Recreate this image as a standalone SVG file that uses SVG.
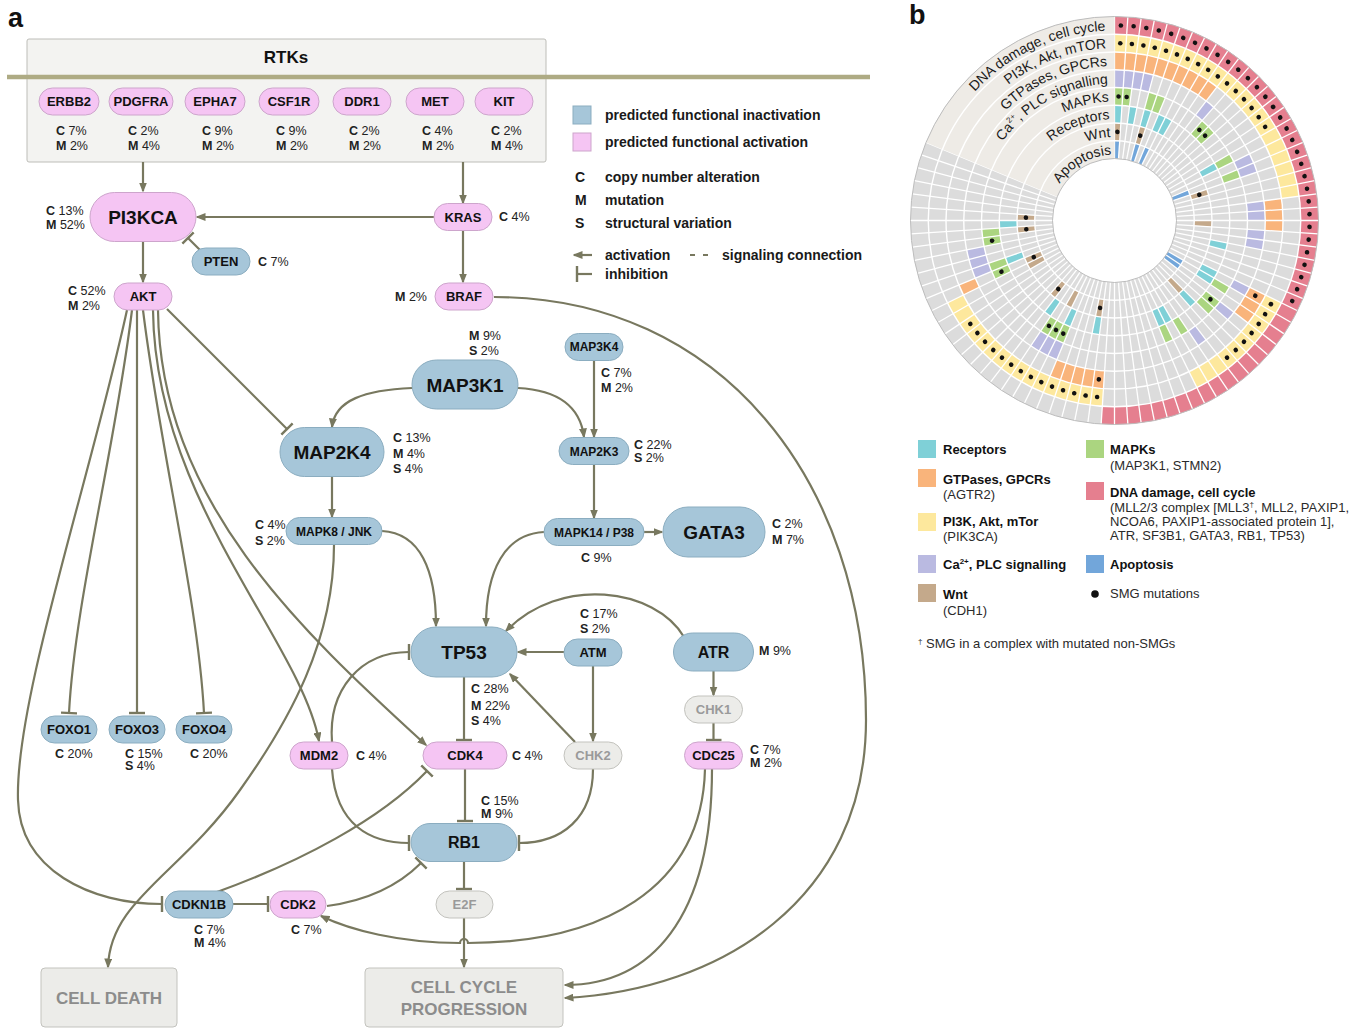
<svg xmlns="http://www.w3.org/2000/svg" xmlns:xlink="http://www.w3.org/1999/xlink" width="1353" height="1029" viewBox="0 0 1353 1029">
<defs>
<style>
text{font-family:"Liberation Sans",Arial,Helvetica,sans-serif}
.ln{fill:none;stroke:#78785f;stroke-width:2.2}
.ar{marker-end:url(#arr)}
.ih{marker-end:url(#inh)}
.pk{fill:#f5c5f3;stroke:#cda5cc;stroke-width:1}
.bl{fill:#a6c6d9;stroke:#8badc0;stroke-width:1}
.gy{fill:#ecece9;stroke:#c3c3be;stroke-width:1}
.nt{font-weight:bold;font-size:13px;fill:#111;text-anchor:middle}
.big{font-size:19px}
.md{font-size:16px}
.sm{font-size:12px}
.gt{fill:#9a9a9a}
.lab{font-size:12.5px;fill:#222}
.b{font-weight:bold}
.leg{font-size:14px;font-weight:bold;fill:#1a1a1a}
.rg{fill:none;stroke-width:17.75}
.cl{font-size:14px;fill:#1a1a1a}
.l2{font-size:13px;fill:#2a2a2a}
.l2b{font-size:13px;font-weight:bold;fill:#111}
.box{fill:#ecece9;stroke:#c3c3be;stroke-width:1}
.bx{font-size:17px;font-weight:bold;fill:#8c8c8c;text-anchor:middle}
</style>
<marker id="arr" markerUnits="userSpaceOnUse" viewBox="0 0 10 8" refX="8.5" refY="4" markerWidth="10" markerHeight="8" orient="auto"><path d="M0,0 L10,4 L0,8 Z" fill="#78785f"/></marker>
<marker id="inh" markerUnits="userSpaceOnUse" viewBox="0 0 4 16" refX="2" refY="8" markerWidth="4" markerHeight="16" orient="auto"><path d="M2,0 V16" stroke="#78785f" stroke-width="2.4"/></marker>
<line id="rl" x1="0" y1="-62" x2="0" y2="-204" stroke="#fff" stroke-width="1.3"/>
<circle id="k0" cx="0" cy="-195.125" r="2.3" fill="#111"/>
<circle id="k1" cx="0" cy="-177.375" r="2.3" fill="#111"/>
<circle id="k2" cx="0" cy="-159.625" r="2.3" fill="#111"/>
<circle id="k4" cx="0" cy="-124.125" r="2.3" fill="#111"/>
<circle id="k6" cx="0" cy="-88.625" r="2.3" fill="#111"/>
<path id="p0" d="M-190,0 A190,190 0 0 1 -8.95,-189.79"/>
<path id="p1" d="M-172.4,0 A172.4,172.4 0 0 1 -8.12,-172.21"/>
<path id="p2" d="M-154.6,0 A154.6,154.6 0 0 1 -7.28,-154.43"/>
<path id="p3" d="M-136.9,0 A136.9,136.9 0 0 1 -6.45,-136.75"/>
<path id="p4" d="M-119.1,0 A119.1,119.1 0 0 1 -5.61,-118.97"/>
<path id="p5" d="M-101.4,0 A101.4,101.4 0 0 1 -4.78,-101.29"/>
<path id="p6" d="M-83.6,0 A83.6,83.6 0 0 1 -3.94,-83.51"/>
<path id="p7" d="M-65.9,0 A65.9,65.9 0 0 1 -3.10,-65.83"/>
</defs>
<rect width="1353" height="1029" fill="#fff"/>

<text x="8" y="27" font-size="27" font-weight="bold" fill="#111">a</text>
<text x="909" y="24" font-size="27" font-weight="bold" fill="#111">b</text>

<!-- RTK box -->
<g id="rtks">
<rect x="27" y="39" width="519" height="123" rx="2" fill="#f3f3f1" stroke="#bdbdb8" stroke-width="1"/>
<text x="286" y="63" font-size="17" font-weight="bold" fill="#111" text-anchor="middle">RTKs</text>
<line x1="7" y1="77" x2="870" y2="77" stroke="#aeab84" stroke-width="4.5"/>
</g>

<!-- connectors -->
<g id="connectors">
<path class="ln ar" d="M143,162 V191"/>
<path class="ln ar" d="M463,162 V203"/>
<path class="ln ar" d="M434,217 H197"/>
<path class="ln ih" d="M201,251 L188,238"/>
<path class="ln ar" d="M143,242 V282"/>
<path class="ln ar" d="M463,231 V282"/>
<path class="ln ih" d="M167,309 L287,429"/>
<path class="ln ih" d="M127,310 C90,480 15,700 18,800 C20,870 90,904 162,904"/>
<path class="ln ih" d="M132,310 C115,450 75,600 69,713"/>
<path class="ln ih" d="M137,310 V713"/>
<path class="ln ih" d="M143,310 C160,450 198,600 204,713"/>
<path class="ln ar" d="M153,310 C155,500 300,640 319,741"/>
<path class="ln ar" d="M158,310 C160,500 300,630 426,745"/>
<path class="ln ar" d="M412,388 C365,390 335,400 332,427"/>
<path class="ln ar" d="M518,388 C556,390 580,405 584,437"/>
<path class="ln ar" d="M594,361 V437"/>
<path class="ln ar" d="M332,477 V517"/>
<path class="ln ar" d="M594,465 V518"/>
<path class="ln ar" d="M644,532 H662"/>
<path class="ln ar" d="M382,531 C420,533 436,570 436,626"/>
<path class="ln ar" d="M544,532 C505,534 486,570 486,626"/>
<path class="ln ar" d="M334,545 C334,640 290,720 240,790 C180,875 110,900 108,967"/>
<path class="ln ar" d="M564,652 H518"/>
<path class="ln ar" d="M684,637 C655,588 560,575 506,631"/>
<path class="ln ar" d="M593,666 V741"/>
<path class="ln ar" d="M575,742 L510,674"/>
<path class="ln ar" d="M713.5,671 V695"/>
<path class="ln ih" d="M713.5,723 V740"/>
<path class="ln ih" d="M464,677 V740"/>
<path class="ln ih" d="M332,742 C328,690 360,652 409,652"/>
<path class="ln ih" d="M332,769 C336,825 370,843 409,843"/>
<path class="ln ih" d="M465,769 V821"/>
<path class="ln ih" d="M593,769 C593,818 562,843 519,843"/>
<path class="ln ih" d="M464,862 V889"/>
<path class="ln ar" d="M464,918 V967"/>
<path class="ln ih" d="M217,892 C300,862 380,820 427,771"/>
<path class="ln ih" d="M327,906 C372,900 400,884 421,863"/>
<path class="ln ih" d="M233,904 H268"/>
<path class="ln ar" d="M705,769 C702,890 600,943 468,943 A4,4 0 0 0 460,943 C400,943 350,930 321,916"/>
<path class="ln ar" d="M712,769 C712,920 650,985 565,985"/>
<path class="ln ar" d="M494,297 C720,297 866,480 866,720 C866,900 720,990 565,998"/>
</g>

<!-- RTK nodes -->
<g id="n-ERBB2"><rect class="pk" x="39" y="88" width="60" height="27" rx="13.5"/><text class="nt" x="69" y="106">ERBB2</text>
<text class="lab" x="56" y="135"><tspan class="b">C</tspan> 7%</text><text class="lab" x="56" y="150"><tspan class="b">M</tspan> 2%</text></g>
<g id="n-PDGFRA"><rect class="pk" x="109" y="88" width="64" height="27" rx="13.5"/><text class="nt" x="141" y="106">PDGFRA</text>
<text class="lab" x="128" y="135"><tspan class="b">C</tspan> 2%</text><text class="lab" x="128" y="150"><tspan class="b">M</tspan> 4%</text></g>
<g id="n-EPHA7"><rect class="pk" x="185" y="88" width="60" height="27" rx="13.5"/><text class="nt" x="215" y="106">EPHA7</text>
<text class="lab" x="202" y="135"><tspan class="b">C</tspan> 9%</text><text class="lab" x="202" y="150"><tspan class="b">M</tspan> 2%</text></g>
<g id="n-CSF1R"><rect class="pk" x="259" y="88" width="60" height="27" rx="13.5"/><text class="nt" x="289" y="106">CSF1R</text>
<text class="lab" x="276" y="135"><tspan class="b">C</tspan> 9%</text><text class="lab" x="276" y="150"><tspan class="b">M</tspan> 2%</text></g>
<g id="n-DDR1"><rect class="pk" x="333" y="88" width="58" height="27" rx="13.5"/><text class="nt" x="362" y="106">DDR1</text>
<text class="lab" x="349" y="135"><tspan class="b">C</tspan> 2%</text><text class="lab" x="349" y="150"><tspan class="b">M</tspan> 2%</text></g>
<g id="n-MET"><rect class="pk" x="406" y="88" width="58" height="27" rx="13.5"/><text class="nt" x="435" y="106">MET</text>
<text class="lab" x="422" y="135"><tspan class="b">C</tspan> 4%</text><text class="lab" x="422" y="150"><tspan class="b">M</tspan> 2%</text></g>
<g id="n-KIT"><rect class="pk" x="475" y="88" width="58" height="27" rx="13.5"/><text class="nt" x="504" y="106">KIT</text>
<text class="lab" x="491" y="135"><tspan class="b">C</tspan> 2%</text><text class="lab" x="491" y="150"><tspan class="b">M</tspan> 4%</text></g>

<!-- pathway nodes -->
<g id="n-PI3KCA"><rect class="pk" x="90" y="192.5" width="106" height="49" rx="24.5"/><text class="nt big" x="143" y="224">PI3KCA</text>
<text class="lab" x="46" y="215"><tspan class="b">C</tspan> 13%</text><text class="lab" x="46" y="229"><tspan class="b">M</tspan> 52%</text></g>
<g id="n-KRAS"><rect class="pk" x="434" y="203.5" width="58" height="27" rx="13.5"/><text class="nt" x="463" y="221.5">KRAS</text>
<text class="lab" x="499" y="221"><tspan class="b">C</tspan> 4%</text></g>
<g id="n-PTEN"><rect class="bl" x="192" y="248" width="58" height="27" rx="13.5"/><text class="nt" x="221" y="266">PTEN</text>
<text class="lab" x="258" y="266"><tspan class="b">C</tspan> 7%</text></g>
<g id="n-AKT"><rect class="pk" x="114" y="283" width="58" height="27" rx="13.5"/><text class="nt" x="143" y="301">AKT</text>
<text class="lab" x="68" y="295"><tspan class="b">C</tspan>  52%</text><text class="lab" x="68" y="310"><tspan class="b">M</tspan>  2%</text></g>
<g id="n-BRAF"><rect class="pk" x="435" y="283" width="58" height="27" rx="13.5"/><text class="nt" x="464" y="301">BRAF</text>
<text class="lab" x="395" y="301"><tspan class="b">M</tspan>  2%</text></g>
<g id="n-MAP3K1"><rect class="bl" x="412" y="360" width="106" height="49" rx="24.5"/><text class="nt big" x="465" y="391.5">MAP3K1</text>
<text class="lab" x="469" y="340"><tspan class="b">M</tspan> 9%</text><text class="lab" x="469" y="355"><tspan class="b">S</tspan> 2%</text></g>
<g id="n-MAP3K4"><rect class="bl" x="565" y="333.5" width="58" height="27" rx="13.5"/><text class="nt sm" x="594" y="351">MAP3K4</text>
<text class="lab" x="601" y="377"><tspan class="b">C</tspan> 7%</text><text class="lab" x="601" y="392"><tspan class="b">M</tspan> 2%</text></g>
<g id="n-MAP2K4"><rect class="bl" x="280" y="427.5" width="104" height="49" rx="24.5"/><text class="nt big" x="332" y="459">MAP2K4</text>
<text class="lab" x="393" y="442"><tspan class="b">C</tspan> 13%</text><text class="lab" x="393" y="458"><tspan class="b">M</tspan> 4%</text><text class="lab" x="393" y="473"><tspan class="b">S</tspan> 4%</text></g>
<g id="n-MAP2K3"><rect class="bl" x="559" y="437.5" width="70" height="27" rx="13.5"/><text class="nt sm" x="594" y="455.5">MAP2K3</text>
<text class="lab" x="634" y="449"><tspan class="b">C</tspan> 22%</text><text class="lab" x="634" y="462"><tspan class="b">S</tspan> 2%</text></g>
<g id="n-MAPK8"><rect class="bl" x="286" y="517.5" width="96" height="27" rx="13.5"/><text class="nt sm" x="334" y="535.5">MAPK8 / JNK</text>
<text class="lab" x="255" y="529"><tspan class="b">C</tspan> 4%</text><text class="lab" x="255" y="545"><tspan class="b">S</tspan> 2%</text></g>
<g id="n-MAPK14"><rect class="bl" x="544" y="518.5" width="100" height="27" rx="13.5"/><text class="nt sm" x="594" y="536.5">MAPK14 / P38</text>
<text class="lab" x="581" y="562"><tspan class="b">C</tspan> 9%</text></g>
<g id="n-GATA3"><rect class="bl" x="663" y="507" width="102" height="50" rx="25"/><text class="nt big" x="714" y="539">GATA3</text>
<text class="lab" x="772" y="528"><tspan class="b">C</tspan> 2%</text><text class="lab" x="772" y="544"><tspan class="b">M</tspan> 7%</text></g>
<g id="n-TP53"><rect class="bl" x="411" y="627" width="106" height="50" rx="25"/><text class="nt big" x="464" y="659">TP53</text>
<text class="lab" x="471" y="693"><tspan class="b">C</tspan> 28%</text><text class="lab" x="471" y="710"><tspan class="b">M</tspan> 22%</text><text class="lab" x="471" y="725"><tspan class="b">S</tspan> 4%</text></g>
<g id="n-ATM"><rect class="bl" x="564" y="639" width="58" height="27" rx="13.5"/><text class="nt" x="593" y="657">ATM</text>
<text class="lab" x="580" y="618"><tspan class="b">C</tspan> 17%</text><text class="lab" x="580" y="633"><tspan class="b">S</tspan> 2%</text></g>
<g id="n-ATR"><rect class="bl" x="673.5" y="633" width="80" height="38" rx="19"/><text class="nt md" x="713.5" y="658">ATR</text>
<text class="lab" x="759" y="655"><tspan class="b">M</tspan> 9%</text></g>
<g id="n-CHK1"><rect class="gy" x="684.5" y="696" width="58" height="27" rx="13.5"/><text class="nt gt" x="713.5" y="714">CHK1</text></g>
<g id="n-CDC25"><rect class="pk" x="684.5" y="742" width="58" height="27" rx="13.5"/><text class="nt" x="713.5" y="760">CDC25</text>
<text class="lab" x="750" y="754"><tspan class="b">C</tspan> 7%</text><text class="lab" x="750" y="767"><tspan class="b">M</tspan> 2%</text></g>
<g id="n-CHK2"><rect class="gy" x="564" y="742" width="58" height="27" rx="13.5"/><text class="nt gt" x="593" y="760">CHK2</text></g>
<g id="n-CDK4"><rect class="pk" x="423" y="742" width="84" height="27" rx="13.5"/><text class="nt" x="465" y="760">CDK4</text>
<text class="lab" x="512" y="760"><tspan class="b">C</tspan> 4%</text></g>
<g id="n-MDM2"><rect class="pk" x="290" y="742" width="58" height="27" rx="13.5"/><text class="nt" x="319" y="760">MDM2</text>
<text class="lab" x="356" y="760"><tspan class="b">C</tspan> 4%</text></g>
<g id="n-FOXO1"><rect class="bl" x="41" y="716" width="56" height="27" rx="13.5"/><text class="nt" x="69" y="734">FOXO1</text>
<text class="lab" x="55" y="758"><tspan class="b">C</tspan> 20%</text></g>
<g id="n-FOXO3"><rect class="bl" x="109" y="716" width="56" height="27" rx="13.5"/><text class="nt" x="137" y="734">FOXO3</text>
<text class="lab" x="125" y="758"><tspan class="b">C</tspan> 15%</text><text class="lab" x="125" y="770"><tspan class="b">S</tspan> 4%</text></g>
<g id="n-FOXO4"><rect class="bl" x="176" y="716" width="56" height="27" rx="13.5"/><text class="nt" x="204" y="734">FOXO4</text>
<text class="lab" x="190" y="758"><tspan class="b">C</tspan> 20%</text></g>
<g id="n-RB1"><rect class="bl" x="411" y="823.5" width="106" height="38" rx="19"/><text class="nt md" x="464" y="848">RB1</text>
<text class="lab" x="481" y="805"><tspan class="b">C</tspan> 15%</text><text class="lab" x="481" y="818"><tspan class="b">M</tspan> 9%</text></g>
<g id="n-E2F"><rect class="gy" x="436" y="891" width="57" height="27" rx="13.5"/><text class="nt gt" x="464.5" y="909" font-weight="normal">E2F</text></g>
<g id="n-CDKN1B"><rect class="bl" x="165" y="891" width="68" height="27" rx="13.5"/><text class="nt" x="199" y="909">CDKN1B</text>
<text class="lab" x="194" y="934"><tspan class="b">C</tspan> 7%</text><text class="lab" x="194" y="947"><tspan class="b">M</tspan> 4%</text></g>
<g id="n-CDK2"><rect class="pk" x="270" y="891" width="56" height="27" rx="13.5"/><text class="nt" x="298" y="909">CDK2</text>
<text class="lab" x="291" y="934"><tspan class="b">C</tspan> 7%</text></g>
<g id="n-CELLDEATH"><rect class="box" x="41" y="968" width="136" height="59" rx="4"/><text class="bx" x="109" y="1004">CELL DEATH</text></g>
<g id="n-CCP"><rect class="box" x="365" y="968" width="198" height="59" rx="4"/><text class="bx" x="464" y="993">CELL CYCLE</text><text class="bx" x="464" y="1015">PROGRESSION</text></g>

<!-- legend a -->
<g id="legend-a">
<rect x="573" y="106" width="18" height="18" fill="#a6c6d9" stroke="#8badc0"/>
<text class="leg" x="605" y="120">predicted functional inactivation</text>
<rect x="573" y="133" width="18" height="18" fill="#f5c5f3" stroke="#cda5cc"/>
<text class="leg" x="605" y="147">predicted functional activation</text>
<text class="leg" x="575" y="182">C</text><text class="leg" x="605" y="182">copy number alteration</text>
<text class="leg" x="575" y="205">M</text><text class="leg" x="605" y="205">mutation</text>
<text class="leg" x="575" y="228">S</text><text class="leg" x="605" y="228">structural variation</text>
<path class="ln ar" d="M592,255 H574"/>
<text class="leg" x="605" y="260">activation</text>
<path d="M690,255 H708" stroke="#78785f" stroke-width="2.2" stroke-dasharray="5 8"/>
<text class="leg" x="722" y="260">signaling connection</text>
<path class="ln ih" d="M592,274 H577"/>
<text class="leg" x="605" y="279">inhibition</text>
</g>

<!-- circular plot b -->
<g id="circos" transform="translate(1114.5,220.5)">
<circle r="133" fill="none" stroke="#dcdcdc" stroke-width="142"/>
<path class="rg" stroke="#e57f8f" pathLength="96" stroke-dasharray="49 47" d="M0,-195.125A195.125,195.125 0 1 1 0,195.125A195.125,195.125 0 1 1 0,-195.125"/>
<path class="rg" stroke="#fde89d" pathLength="96" stroke-dasharray="22 9 10 8 16 31" d="M0,-177.375A177.375,177.375 0 1 1 0,177.375A177.375,177.375 0 1 1 0,-177.375"/>
<path class="rg" stroke="#f9b47b" pathLength="96" stroke-dasharray="10 12 3 6 3 15 5 11 1 30" d="M0,-159.625A159.625,159.625 0 1 1 0,159.625A159.625,159.625 0 1 1 0,-159.625"/>
<path class="rg" stroke="#babae1" pathLength="96" stroke-dasharray="4 6 1 6 2 3 2 1 2 4 1 2 1 3 1 15 3 9 3 27" d="M0,-141.875A141.875,141.875 0 1 1 0,141.875A141.875,141.875 0 1 1 0,-141.875"/>
<path class="rg" stroke="#abd580" pathLength="96" stroke-dasharray="2 2 2 5 2 3 1 1 1 13 1 1 2 3 1 1 1 12 3 8 2 2 2 25" d="M0,-124.125A124.125,124.125 0 1 1 0,124.125A124.125,124.125 0 1 1 0,-124.125"/>
<path class="rg" stroke="#7fd0d7" pathLength="96" stroke-dasharray="1 1 1 1 1 1 2 8 1 10 1 3 2 3 1 3 2 8 1 3 1 2 1 8 1 4 1 24" d="M0,-106.375A106.375,106.375 0 1 1 0,106.375A106.375,106.375 0 1 1 0,-106.375"/>
<path class="rg" stroke="#c4a98b" pathLength="96" stroke-dasharray="1 3 1 14 1 4 1 11 1 13 1 4 1 2 1 5 2 4 1 1 1 23" d="M0,-88.625A88.625,88.625 0 1 1 0,88.625A88.625,88.625 0 1 1 0,-88.625"/>
<path class="rg" stroke="#72a6da" pathLength="96" stroke-dasharray="1 3 1 1 1 11 1 13 2 62" d="M0,-70.875A70.875,70.875 0 1 1 0,70.875A70.875,70.875 0 1 1 0,-70.875"/>
<g id="radials">
<use xlink:href="#rl"/><use xlink:href="#rl" transform="rotate(3.75)"/><use xlink:href="#rl" transform="rotate(7.5)"/><use xlink:href="#rl" transform="rotate(11.25)"/><use xlink:href="#rl" transform="rotate(15)"/><use xlink:href="#rl" transform="rotate(18.75)"/><use xlink:href="#rl" transform="rotate(22.5)"/><use xlink:href="#rl" transform="rotate(26.25)"/><use xlink:href="#rl" transform="rotate(30)"/><use xlink:href="#rl" transform="rotate(33.75)"/>
<use xlink:href="#rl" transform="rotate(37.5)"/><use xlink:href="#rl" transform="rotate(41.25)"/><use xlink:href="#rl" transform="rotate(45)"/><use xlink:href="#rl" transform="rotate(48.75)"/><use xlink:href="#rl" transform="rotate(52.5)"/><use xlink:href="#rl" transform="rotate(56.25)"/><use xlink:href="#rl" transform="rotate(60)"/><use xlink:href="#rl" transform="rotate(63.75)"/><use xlink:href="#rl" transform="rotate(67.5)"/><use xlink:href="#rl" transform="rotate(71.25)"/>
<use xlink:href="#rl" transform="rotate(75)"/><use xlink:href="#rl" transform="rotate(78.75)"/><use xlink:href="#rl" transform="rotate(82.5)"/><use xlink:href="#rl" transform="rotate(86.25)"/><use xlink:href="#rl" transform="rotate(90)"/><use xlink:href="#rl" transform="rotate(93.75)"/><use xlink:href="#rl" transform="rotate(97.5)"/><use xlink:href="#rl" transform="rotate(101.25)"/><use xlink:href="#rl" transform="rotate(105)"/><use xlink:href="#rl" transform="rotate(108.75)"/>
<use xlink:href="#rl" transform="rotate(112.5)"/><use xlink:href="#rl" transform="rotate(116.25)"/><use xlink:href="#rl" transform="rotate(120)"/><use xlink:href="#rl" transform="rotate(123.75)"/><use xlink:href="#rl" transform="rotate(127.5)"/><use xlink:href="#rl" transform="rotate(131.25)"/><use xlink:href="#rl" transform="rotate(135)"/><use xlink:href="#rl" transform="rotate(138.75)"/><use xlink:href="#rl" transform="rotate(142.5)"/><use xlink:href="#rl" transform="rotate(146.25)"/>
<use xlink:href="#rl" transform="rotate(150)"/><use xlink:href="#rl" transform="rotate(153.75)"/><use xlink:href="#rl" transform="rotate(157.5)"/><use xlink:href="#rl" transform="rotate(161.25)"/><use xlink:href="#rl" transform="rotate(165)"/><use xlink:href="#rl" transform="rotate(168.75)"/><use xlink:href="#rl" transform="rotate(172.5)"/><use xlink:href="#rl" transform="rotate(176.25)"/><use xlink:href="#rl" transform="rotate(180)"/><use xlink:href="#rl" transform="rotate(183.75)"/>
<use xlink:href="#rl" transform="rotate(187.5)"/><use xlink:href="#rl" transform="rotate(191.25)"/><use xlink:href="#rl" transform="rotate(195)"/><use xlink:href="#rl" transform="rotate(198.75)"/><use xlink:href="#rl" transform="rotate(202.5)"/><use xlink:href="#rl" transform="rotate(206.25)"/><use xlink:href="#rl" transform="rotate(210)"/><use xlink:href="#rl" transform="rotate(213.75)"/><use xlink:href="#rl" transform="rotate(217.5)"/><use xlink:href="#rl" transform="rotate(221.25)"/>
<use xlink:href="#rl" transform="rotate(225)"/><use xlink:href="#rl" transform="rotate(228.75)"/><use xlink:href="#rl" transform="rotate(232.5)"/><use xlink:href="#rl" transform="rotate(236.25)"/><use xlink:href="#rl" transform="rotate(240)"/><use xlink:href="#rl" transform="rotate(243.75)"/><use xlink:href="#rl" transform="rotate(247.5)"/><use xlink:href="#rl" transform="rotate(251.25)"/><use xlink:href="#rl" transform="rotate(255)"/><use xlink:href="#rl" transform="rotate(258.75)"/>
<use xlink:href="#rl" transform="rotate(262.5)"/><use xlink:href="#rl" transform="rotate(266.25)"/><use xlink:href="#rl" transform="rotate(270)"/><use xlink:href="#rl" transform="rotate(273.75)"/><use xlink:href="#rl" transform="rotate(277.5)"/><use xlink:href="#rl" transform="rotate(281.25)"/><use xlink:href="#rl" transform="rotate(285)"/><use xlink:href="#rl" transform="rotate(288.75)"/><use xlink:href="#rl" transform="rotate(292.5)"/>
</g>
<path d="M-188.472,-78.067 A204,204 0 0 1 0,-204 L0,-62 A62,62 0 0 0 -57.281,-23.726 Z" fill="#eeebe6"/>
<g fill="none" stroke="#fff" stroke-width="1.4">
<circle r="79.75"/><circle r="97.5"/><circle r="115.25"/><circle r="133"/><circle r="150.75"/><circle r="168.5"/><circle r="186.25"/>
</g>
<circle r="204" fill="none" stroke="#bdbdbd" stroke-width="1"/>
<circle r="62" fill="none" stroke="#bdbdbd" stroke-width="1"/>
<g id="dots">
<use xlink:href="#k0" transform="rotate(1.875)"/><use xlink:href="#k0" transform="rotate(5.625)"/><use xlink:href="#k0" transform="rotate(9.375)"/><use xlink:href="#k0" transform="rotate(13.125)"/><use xlink:href="#k0" transform="rotate(16.875)"/><use xlink:href="#k0" transform="rotate(20.625)"/><use xlink:href="#k0" transform="rotate(24.375)"/><use xlink:href="#k0" transform="rotate(28.125)"/><use xlink:href="#k0" transform="rotate(31.875)"/><use xlink:href="#k0" transform="rotate(35.625)"/><use xlink:href="#k0" transform="rotate(39.375)"/>
<use xlink:href="#k0" transform="rotate(43.125)"/><use xlink:href="#k0" transform="rotate(46.875)"/><use xlink:href="#k0" transform="rotate(50.625)"/><use xlink:href="#k0" transform="rotate(54.375)"/><use xlink:href="#k0" transform="rotate(58.125)"/><use xlink:href="#k0" transform="rotate(61.875)"/><use xlink:href="#k0" transform="rotate(65.625)"/><use xlink:href="#k0" transform="rotate(69.375)"/><use xlink:href="#k0" transform="rotate(73.125)"/><use xlink:href="#k0" transform="rotate(76.875)"/>
<use xlink:href="#k0" transform="rotate(80.625)"/><use xlink:href="#k0" transform="rotate(84.375)"/><use xlink:href="#k0" transform="rotate(88.125)"/><use xlink:href="#k0" transform="rotate(91.875)"/><use xlink:href="#k0" transform="rotate(95.625)"/><use xlink:href="#k0" transform="rotate(99.375)"/><use xlink:href="#k0" transform="rotate(103.125)"/><use xlink:href="#k0" transform="rotate(106.875)"/><use xlink:href="#k0" transform="rotate(110.625)"/><use xlink:href="#k0" transform="rotate(114.375)"/>
<use xlink:href="#k1" transform="rotate(1.875)"/><use xlink:href="#k1" transform="rotate(5.625)"/><use xlink:href="#k1" transform="rotate(9.375)"/><use xlink:href="#k1" transform="rotate(13.125)"/><use xlink:href="#k1" transform="rotate(16.875)"/><use xlink:href="#k1" transform="rotate(20.625)"/><use xlink:href="#k1" transform="rotate(24.375)"/><use xlink:href="#k1" transform="rotate(28.125)"/><use xlink:href="#k1" transform="rotate(31.875)"/><use xlink:href="#k1" transform="rotate(35.625)"/><use xlink:href="#k1" transform="rotate(39.375)"/><use xlink:href="#k1" transform="rotate(43.125)"/><use xlink:href="#k1" transform="rotate(46.875)"/><use xlink:href="#k1" transform="rotate(50.625)"/><use xlink:href="#k1" transform="rotate(54.375)"/><use xlink:href="#k1" transform="rotate(58.125)"/>
<use xlink:href="#k1" transform="rotate(118.125)"/><use xlink:href="#k1" transform="rotate(121.875)"/><use xlink:href="#k1" transform="rotate(125.625)"/><use xlink:href="#k1" transform="rotate(129.375)"/><use xlink:href="#k1" transform="rotate(133.125)"/><use xlink:href="#k1" transform="rotate(136.875)"/><use xlink:href="#k1" transform="rotate(140.625)"/>
<use xlink:href="#k1" transform="rotate(185.625)"/><use xlink:href="#k1" transform="rotate(189.375)"/><use xlink:href="#k1" transform="rotate(193.125)"/><use xlink:href="#k1" transform="rotate(196.875)"/><use xlink:href="#k1" transform="rotate(200.625)"/><use xlink:href="#k1" transform="rotate(204.375)"/><use xlink:href="#k1" transform="rotate(208.125)"/><use xlink:href="#k1" transform="rotate(211.875)"/><use xlink:href="#k1" transform="rotate(215.625)"/><use xlink:href="#k1" transform="rotate(219.375)"/><use xlink:href="#k1" transform="rotate(223.125)"/><use xlink:href="#k1" transform="rotate(226.875)"/><use xlink:href="#k1" transform="rotate(230.625)"/><use xlink:href="#k1" transform="rotate(234.375)"/>
<use xlink:href="#k2" transform="rotate(118.125)"/><use xlink:href="#k2" transform="rotate(185.625)"/>
<use xlink:href="#k4" transform="rotate(1.875)"/><use xlink:href="#k4" transform="rotate(5.625)"/><use xlink:href="#k4" transform="rotate(43.125)"/><use xlink:href="#k4" transform="rotate(46.875)"/><use xlink:href="#k4" transform="rotate(129.375)"/><use xlink:href="#k4" transform="rotate(204.375)"/><use xlink:href="#k4" transform="rotate(208.125)"/><use xlink:href="#k4" transform="rotate(211.875)"/><use xlink:href="#k4" transform="rotate(245.625)"/><use xlink:href="#k4" transform="rotate(260.625)"/>
<use xlink:href="#k6" transform="rotate(1.875)"/><use xlink:href="#k6" transform="rotate(16.875)"/><use xlink:href="#k6" transform="rotate(73.125)"/><use xlink:href="#k6" transform="rotate(189.375)"/><use xlink:href="#k6" transform="rotate(219.375)"/><use xlink:href="#k6" transform="rotate(245.625)"/><use xlink:href="#k6" transform="rotate(264.375)"/><use xlink:href="#k6" transform="rotate(271.875)"/>
</g>
<g id="ring-labels" class="cl">
<text class="cl"><textPath xlink:href="#p0" startOffset="100%" text-anchor="end">DNA damage, cell cycle</textPath></text>
<text class="cl"><textPath xlink:href="#p1" startOffset="100%" text-anchor="end">PI3K, Akt, mTOR</textPath></text>
<text class="cl"><textPath xlink:href="#p2" startOffset="100%" text-anchor="end">GTPases, GPCRs</textPath></text>
<text class="cl"><textPath xlink:href="#p3" startOffset="100%" text-anchor="end">Ca<tspan font-size="8" dy="-6">2+</tspan><tspan dy="6">, PLC signalling</tspan></textPath></text>
<text class="cl"><textPath xlink:href="#p4" startOffset="100%" text-anchor="end">MAPKs</textPath></text>
<text class="cl"><textPath xlink:href="#p5" startOffset="100%" text-anchor="end">Receptors</textPath></text>
<text class="cl"><textPath xlink:href="#p6" startOffset="100%" text-anchor="end">Wnt</textPath></text>
<text class="cl"><textPath xlink:href="#p7" startOffset="100%" text-anchor="end">Apoptosis</textPath></text>
</g>
</g>

<!-- legend b -->
<g id="legend-b">
<rect x="918" y="440" width="18" height="18" fill="#7fd0d7"/>
<text class="l2b" x="943" y="454">Receptors</text>
<rect x="918" y="469" width="18" height="18" fill="#f9b47b"/>
<text class="l2b" x="943" y="484">GTPases, GPCRs</text>
<text class="l2" x="943" y="499">(AGTR2)</text>
<rect x="918" y="513" width="18" height="18" fill="#fde89d"/>
<text class="l2b" x="943" y="526">PI3K, Akt, mTor</text>
<text class="l2" x="943" y="541">(PIK3CA)</text>
<rect x="918" y="555" width="18" height="18" fill="#babae1"/>
<text class="l2b" x="943" y="569">Ca<tspan font-size="8" dy="-5">2+</tspan><tspan dy="5">, PLC signalling</tspan></text>
<rect x="918" y="584" width="18" height="18" fill="#c4a98b"/>
<text class="l2b" x="943" y="599">Wnt</text>
<text class="l2" x="943" y="615">(CDH1)</text>
<rect x="1086" y="440" width="18" height="18" fill="#abd580"/>
<text class="l2b" x="1110" y="454">MAPKs</text>
<text class="l2" x="1110" y="470">(MAP3K1, STMN2)</text>
<rect x="1086" y="482" width="18" height="18" fill="#e57f8f"/>
<text class="l2b" x="1110" y="497">DNA damage, cell cycle</text>
<text class="l2" x="1110" y="512">(MLL2/3 complex [MLL3<tspan font-size="8" dy="-5">†</tspan><tspan dy="5">, MLL2, PAXIP1,</tspan></text>
<text class="l2" x="1110" y="526">NCOA6, PAXIP1-associated protein 1],</text>
<text class="l2" x="1110" y="540">ATR, SF3B1, GATA3, RB1, TP53)</text>
<rect x="1086" y="555" width="18" height="18" fill="#72a6da"/>
<text class="l2b" x="1110" y="569">Apoptosis</text>
<circle cx="1095" cy="594" r="3.8" fill="#111"/>
<text class="l2" x="1110" y="598">SMG mutations</text>
<text class="l2" x="918" y="648" font-size="12.5"><tspan font-size="8" dy="-4">†</tspan><tspan dy="4"> SMG in a complex with mutated non-SMGs</tspan></text>
</g>
</svg>
